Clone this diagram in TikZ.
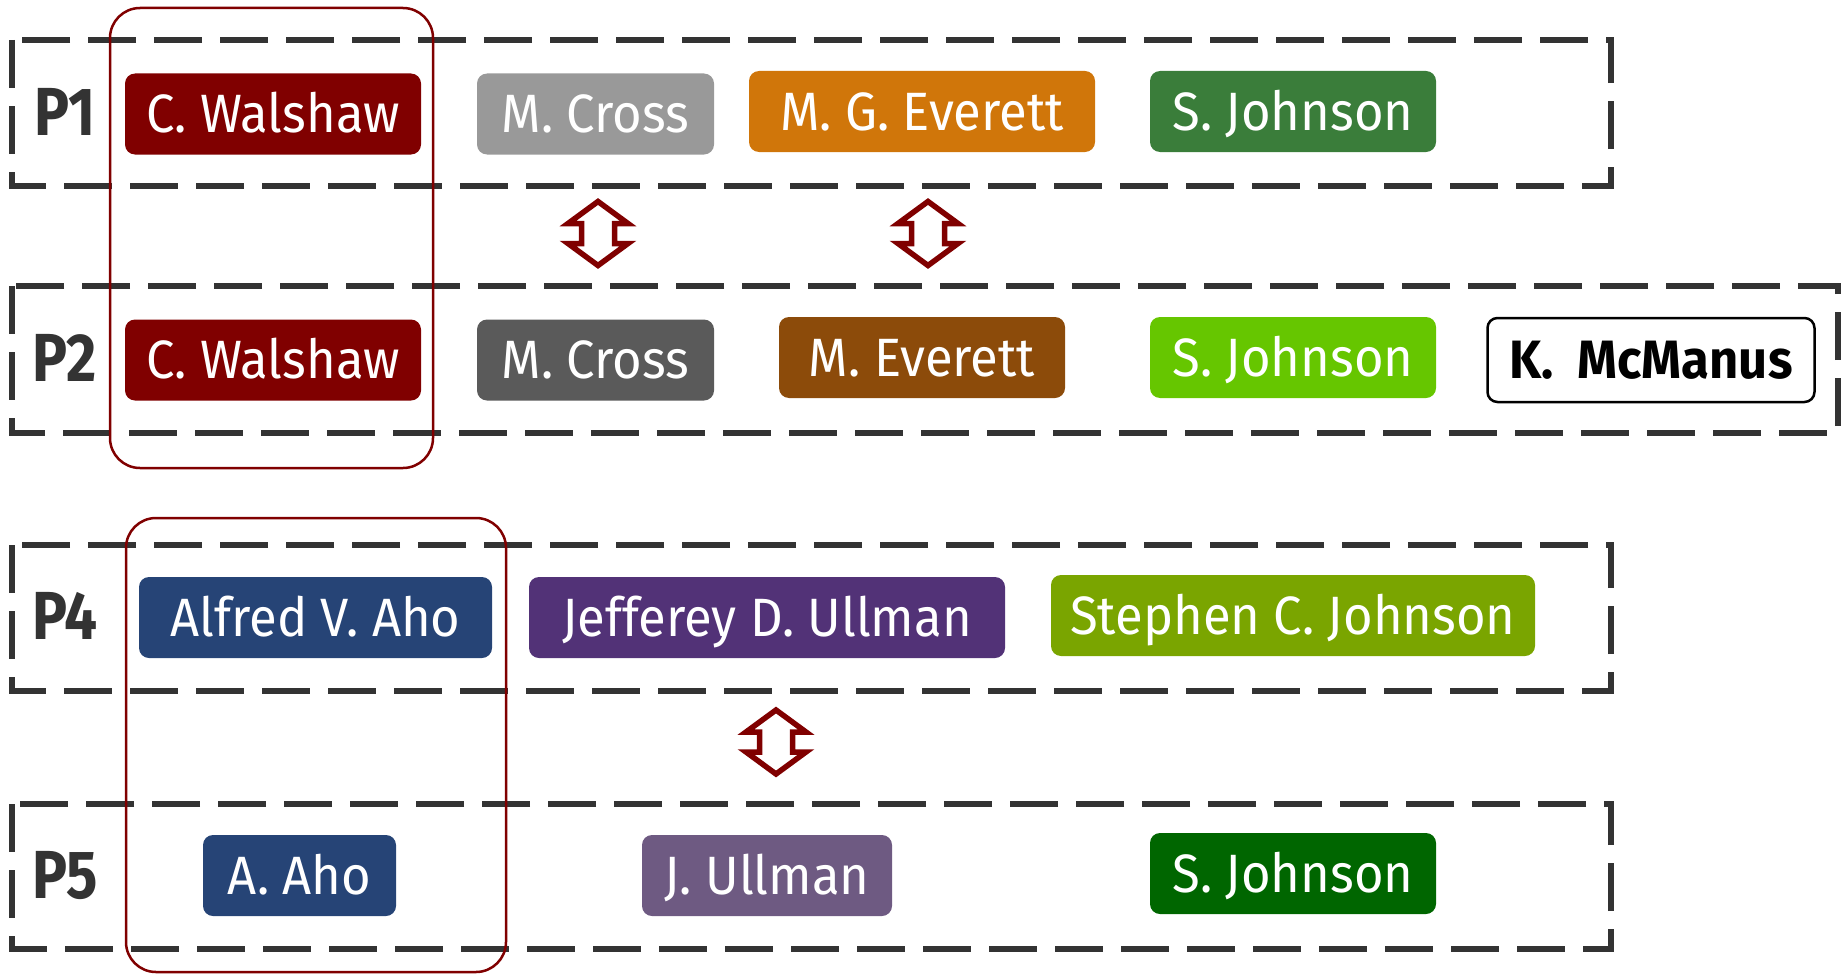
\documentclass[tikz,border=0pt]{standalone}
\usepackage{fontspec}
\setmainfont{Fira Sans}[FakeStretch=0.94]
\newfontfamily\rowfont{Fira Sans}[FakeStretch=0.86]
\definecolor{dashgray}{HTML}{333333}
\definecolor{maroon}{HTML}{800000}
\definecolor{cwalshaw}{HTML}{800000}
\definecolor{crossA}{HTML}{999999}
\definecolor{crossB}{HTML}{5A5A5A}
\definecolor{everettA}{HTML}{D0760A}
\definecolor{everettB}{HTML}{8C4B0A}
\definecolor{johnsonA}{HTML}{3A7D3A}
\definecolor{johnsonB}{HTML}{66C600}
\definecolor{johnsonC}{HTML}{7AA500}
\definecolor{johnsonD}{HTML}{006600}
\definecolor{aho}{HTML}{264476}
\definecolor{ullmanA}{HTML}{523277}
\definecolor{ullmanB}{HTML}{6E5A82}
\begin{document}
\begin{tikzpicture}[x=1pt,y=-1pt,
  rowbox/.style={draw=dashgray, line width=5.5pt, dash pattern=on 48pt off 18pt},
  rowlabel/.style={text=dashgray, anchor=base, inner sep=0pt,
    font=\rowfont\bfseries\fontsize{68}{70}\selectfont},
  author/.style={rounded corners=10pt, minimum height=81pt, inner sep=0pt,
    text=white, font=\fontsize{54}{60}\selectfont, text height=37pt, text depth=0pt},
  group/.style={draw=maroon, line width=2.5pt, rounded corners=30pt},
  swap/.style={draw=maroon, fill=white, line width=5.5pt, line join=miter},
]
\useasboundingbox (0,0) rectangle (1847,974);

% dashed row frames
\draw[rowbox] (12,40) rectangle (1611,186);
\draw[rowbox] (12,286) rectangle (1838,433);
\draw[rowbox] (12,545) rectangle (1611,691);
\draw[rowbox] (12,804) rectangle (1611,949);

% row labels
\node[rowlabel] (p1) at (65,135) {P1};
\node[rowlabel] (p2) at (65,381) {P2};
\node[rowlabel] (p4) at (65,639) {P4};
\node[rowlabel] (p5) at (65,898) {P5};

% row P1
\node[author, fill=cwalshaw, minimum width=296pt] (cw1) at (273,114) {C. Walshaw};
\node[author, fill=crossA, minimum width=237pt] (mc1) at (595.5,114) {M. Cross};
\node[author, fill=everettA, minimum width=346pt] (mge) at (922,111.5) {M. G. Everett};
\node[author, fill=johnsonA, minimum width=286pt] (sj1) at (1293,111.5) {S. Johnson};

% row P2
\node[author, fill=cwalshaw, minimum width=296pt] (cw2) at (273,360) {C. Walshaw};
\node[author, fill=crossB, minimum width=237pt] (mc2) at (595.5,360) {M. Cross};
\node[author, fill=everettB, minimum width=286pt] (me) at (922,357.5) {M. Everett};
\node[author, fill=johnsonB, minimum width=286pt] (sj2) at (1293,357.5) {S. Johnson};
\node[author, draw=black, line width=2.5pt, fill=white, text=black, minimum width=327pt, minimum height=84pt,
  font=\bfseries\fontsize{54}{60}\selectfont] (km) at (1651,360) {K.\ \ McManus};

% row P4
\node[author, fill=aho, minimum width=353pt] (ava) at (315.5,617.5) {Alfred V. Aho};
\node[author, fill=ullmanA, minimum width=476pt] (jdu) at (767,617.5) {Jefferey D. Ullman};
\node[author, fill=johnsonC, minimum width=484pt] (scj) at (1293,615.5) {Stephen C. Johnson};

% row P5
\node[author, fill=aho, minimum width=193pt] (aa) at (299.5,875.5) {A. Aho};
\node[author, fill=ullmanB, minimum width=250pt] (ju) at (767,875.5) {J. Ullman};
\node[author, fill=johnsonD, minimum width=286pt] (sj3) at (1293,873.5) {S. Johnson};

% same-author groups
\draw[group] (110,8) rectangle (433,468);
\draw[group] (126,518) rectangle (506,972);

% double arrows between matched rows
\tikzset{updown/.pic={
  \draw[swap] (0,-32) -- (30,-10) -- (16.5,-10) -- (16.5,10) -- (30,10) -- (0,32)
    -- (-30,10) -- (-16.5,10) -- (-16.5,-10) -- (-30,-10) -- cycle;}}
\pic (arr1) at (598,233.5) {updown};
\pic (arr2) at (928,233.5) {updown};
\pic (arr3) at (776,742) {updown};
\end{tikzpicture}
\end{document}
